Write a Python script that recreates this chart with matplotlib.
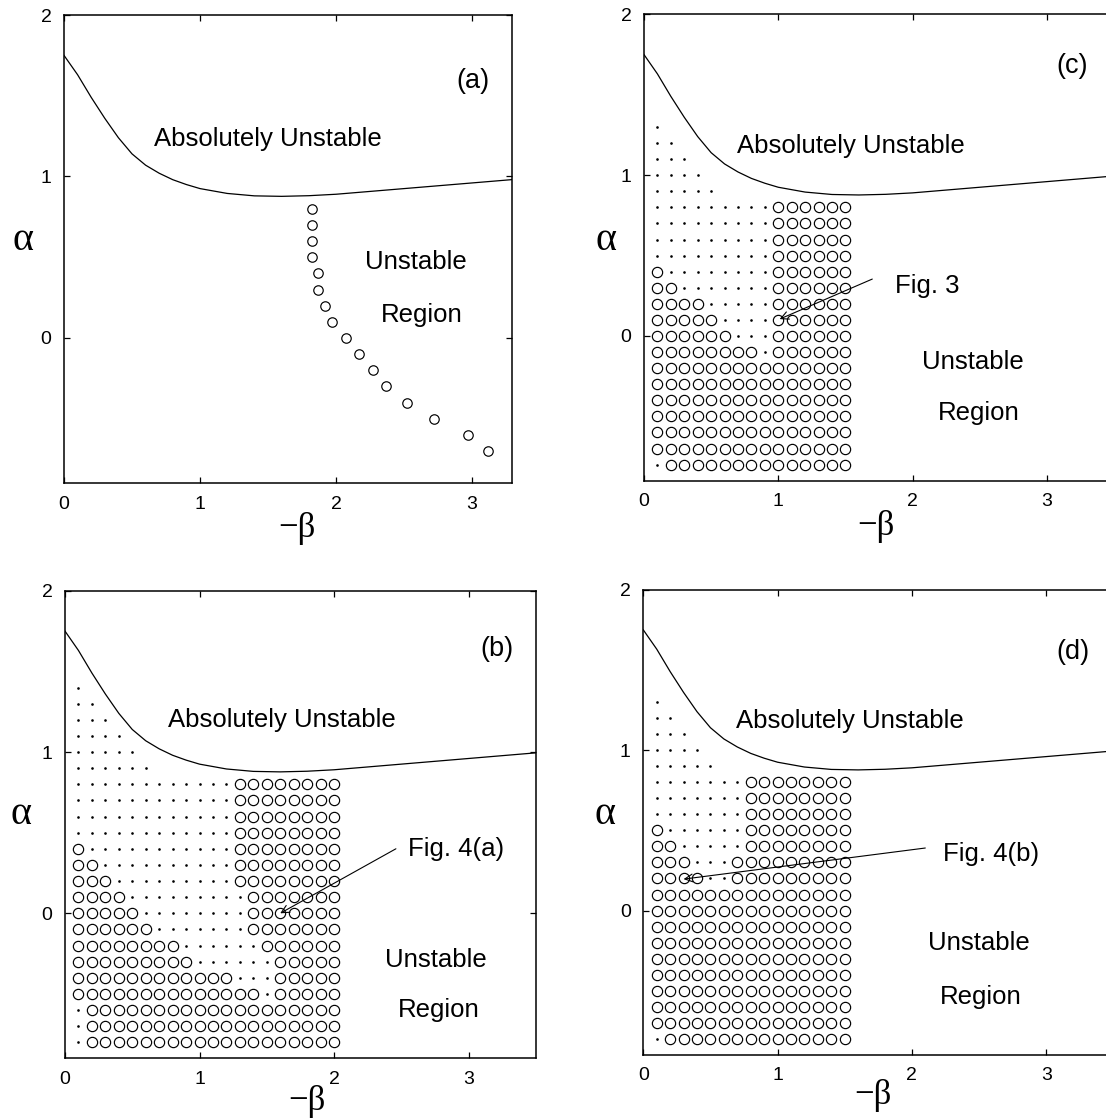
import matplotlib
matplotlib.use("Agg")
import matplotlib.pyplot as plt

W, H = 1106, 1119
fig = plt.figure(figsize=(W / 100, H / 100), dpi=100)

SANS = "Liberation Sans"
SERIF = "Liberation Serif"

# ---------------- data ----------------
# boundary of the absolutely unstable region
curve_x = [0, 0.1, 0.2, 0.3, 0.4, 0.5, 0.6, 0.7, 0.8, 0.9, 1.0, 1.2, 1.4, 1.6,
           1.8, 2.0, 2.5, 3.0, 3.5, 3.7]
curve_y = [1.75, 1.63, 1.49, 1.36, 1.24, 1.14, 1.07, 1.02, 0.98, 0.95, 0.925,
           0.895, 0.88, 0.877, 0.881, 0.89, 0.925, 0.96, 0.995, 1.005]

# panel (a): circles
a_x = [1.82, 1.82, 1.82, 1.82, 1.87, 1.87, 1.92, 1.97, 2.07, 2.17, 2.27, 2.37,
       2.52, 2.72, 2.97, 3.12]
a_y = [0.8, 0.7, 0.6, 0.5, 0.4, 0.3, 0.2, 0.1, 0.0, -0.1, -0.2, -0.3, -0.4,
       -0.5, -0.6, -0.7]

# grids: 'o' = circle, '.' = dot, ' ' = nothing ; columns start at 0.1 step 0.1
b_rows_y = [1.4, 1.3, 1.2, 1.1, 1.0, 0.9, 0.8, 0.7, 0.6, 0.5, 0.4, 0.3, 0.2,
            0.1, 0.0, -0.1, -0.2, -0.3, -0.4, -0.5, -0.6, -0.7, -0.8]
b_rows = [
    ".",
    "..",
    "...",
    "....",
    ".....",
    "......",
    "............oooooooo",
    "............oooooooo",
    "............oooooooo",
    "............oooooooo",
    "o...........oooooooo",
    "oo..........oooooooo",
    "ooo.........oooooooo",
    "oooo.........ooooooo",
    "ooooo........ooooooo",
    "oooooo.......ooooooo",
    "oooooooo......oooooo",
    "ooooooooo......ooooo",
    "oooooooooooo...ooooo",
    "oooooooooooooo.ooooo",
    ".ooooooooooooooooooo",
    ".ooooooooooooooooooo",
    ".ooooooooooooooooooo",
]

c_rows_y = [1.3, 1.2, 1.1, 1.0, 0.9, 0.8, 0.7, 0.6, 0.5, 0.4, 0.3, 0.2, 0.1,
            0.0, -0.1, -0.2, -0.3, -0.4, -0.5, -0.6, -0.7, -0.8]
c_rows = [
    ".",
    "..",
    "...",
    "....",
    ".....",
    ".........oooooo",
    ".........oooooo",
    ".........oooooo",
    ".........oooooo",
    "o........oooooo",
    "oo.......oooooo",
    "oooo.....oooooo",
    "ooooo....oooooo",
    "oooooo...oooooo",
    "oooooooo.oooooo",
    "ooooooooooooooo",
    "ooooooooooooooo",
    "ooooooooooooooo",
    "ooooooooooooooo",
    "ooooooooooooooo",
    "ooooooooooooooo",
    ".oooooooooooooo",
]

d_rows_y = c_rows_y
d_rows = [
    ".",
    "..",
    "...",
    "....",
    ".....",
    ".......oooooooo",
    ".......oooooooo",
    ".......oooooooo",
    "o......oooooooo",
    "oo.....oooooooo",
    "ooo...ooooooooo",
    "oooo..ooooooooo",
    "ooooooooooooooo",
    "ooooooooooooooo",
    "ooooooooooooooo",
    "ooooooooooooooo",
    "ooooooooooooooo",
    "ooooooooooooooo",
    "ooooooooooooooo",
    "ooooooooooooooo",
    "ooooooooooooooo",
    ".oooooooooooooo",
]

x_ticks = [0, 1, 2, 3]
y_ticks = [0, 1, 2]

# ---------------- helpers ----------------
def add_ax(l, r, t, b, xmax):
    ax = fig.add_axes([l / W, 1 - b / H, (r - l) / W, (b - t) / H])
    ax.set_xlim(0, xmax)
    ax.set_ylim(-0.9, 2.0)
    ax.set_xticks(x_ticks)
    ax.set_yticks(y_ticks)
    ax.set_xticklabels([str(v) for v in x_ticks], fontfamily=SANS, fontsize=14)
    ax.set_yticklabels([str(v) for v in y_ticks], fontfamily=SANS, fontsize=14)
    ax.tick_params(direction="in", top=True, right=True, length=4, width=0.9,
                   pad=9)
    for s in ax.spines.values():
        s.set_linewidth(1.1)
    ax.plot(curve_x, curve_y, color="k", lw=0.9, clip_on=True)
    return ax


def draw_grid(ax, rows, rows_y):
    cx, cy, dx, dy = [], [], [], []
    for row, y in zip(rows, rows_y):
        for j, ch in enumerate(row):
            x = round(0.1 * (j + 1), 2)
            if ch == "o":
                cx.append(x); cy.append(y)
            elif ch == ".":
                dx.append(x); dy.append(y)
    ax.plot(cx, cy, "o", ms=7.4, mfc="none", mec="k", mew=0.85, ls="none")
    ax.plot(dx, dy, "o", ms=1.9, mfc="k", mec="k", mew=0, ls="none")


def labels(ax, xpos, ypx_beta, alpha_px):
    fig.text(alpha_px[0] / W, 1 - alpha_px[1] / H, "\u03b1", fontfamily=SERIF,
             fontsize=29, ha="center", va="center")
    ax.annotate("\u2212\u03b2", xy=(xpos, 0), xycoords=("data", "axes fraction"),
                xytext=(0, -ypx_beta * 0.72), textcoords="offset points",
                fontfamily=SERIF, fontsize=25, ha="center", va="center")


def txt(ax, x, y, s, size=18.5):
    ax.text(x, y, s, fontfamily=SANS, fontsize=size, ha="center", va="center")


def arrow(ax, start, end):
    ax.annotate("", xy=end, xytext=start,
                arrowprops=dict(arrowstyle="->", lw=0.8, color="k",
                                mutation_scale=14, shrinkA=0, shrinkB=0))


# ---------------- panel (a) ----------------
axa = add_ax(64, 511.5, 15, 483.3, 3.29)
axa.plot(a_x, a_y, "o", ms=6.8, mfc="none", mec="k", mew=0.85, ls="none")
txt(axa, 1.50, 1.23, "Absolutely Unstable")
txt(axa, 2.59, 0.47, "Unstable")
txt(axa, 2.63, 0.14, "Region")
txt(axa, 3.01, 1.59, "(a)", 19.5)
labels(axa, 1.71, 45, (23, 241))

# ---------------- panel (b) ----------------
axb = add_ax(65, 535.8, 590.8, 1058.4, 3.5)
draw_grid(axb, b_rows, b_rows_y)
txt(axb, 1.61, 1.20, "Absolutely Unstable")
txt(axb, 2.76, -0.29, "Unstable")
txt(axb, 2.78, -0.60, "Region")
txt(axb, 3.21, 1.64, "(b)", 19.5)
txt(axb, 2.91, 0.40, "Fig. 4(a)")
arrow(axb, (2.46, 0.40), (1.60, 0.0))
labels(axb, 1.80, 43, (21, 815))

# ---------------- panel (c) ----------------
axc = add_ax(644, 1114, 14.4, 480.7, 3.5)
draw_grid(axc, c_rows, c_rows_y)
txt(axc, 1.54, 1.18, "Absolutely Unstable")
txt(axc, 2.45, -0.16, "Unstable")
txt(axc, 2.49, -0.48, "Region")
txt(axc, 3.19, 1.68, "(c)", 19.5)
txt(axc, 2.11, 0.31, "Fig. 3")
arrow(axc, (1.70, 0.354), (1.01, 0.105))
labels(axc, 1.73, 46, (606, 240))

# ---------------- panel (d) ----------------
axd = add_ax(643.3, 1113.3, 589.8, 1054.9, 3.5)
draw_grid(axd, d_rows, d_rows_y)
txt(axd, 1.54, 1.18, "Absolutely Unstable")
txt(axd, 2.50, -0.20, "Unstable")
txt(axd, 2.51, -0.54, "Region")
txt(axd, 3.20, 1.61, "(d)", 19.5)
txt(axd, 2.59, 0.35, "Fig. 4(b)")
arrow(axd, (2.10, 0.39), (0.30, 0.196))
labels(axd, 1.71, 41, (605, 815))

fig.savefig("out.png", dpi=100)
